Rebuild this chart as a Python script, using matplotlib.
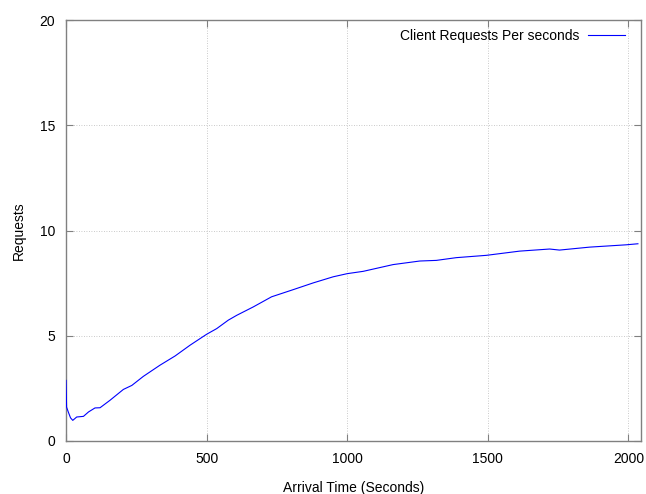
import matplotlib
matplotlib.use("Agg")
import matplotlib.pyplot as plt

# arrival time (s) vs. client requests per second
arrival = [0, 2, 8, 16, 24, 38, 62, 80, 103, 121, 156, 204, 234, 275, 334,
           388, 441, 500, 536, 577, 607, 666, 731, 808, 879, 950, 1000, 1057,
           1163, 1258, 1317, 1388, 1495, 1613, 1720, 1755, 1862, 1992, 2034]
requests = [2.88, 1.61, 1.38, 1.1, 0.98, 1.14, 1.17, 1.38, 1.57, 1.58, 1.93,
            2.45, 2.64, 3.07, 3.60, 4.04, 4.55, 5.07, 5.34, 5.74, 5.97, 6.37,
            6.85, 7.19, 7.51, 7.80, 7.95, 8.06, 8.38, 8.55, 8.58, 8.71, 8.82,
            9.02, 9.12, 9.07, 9.21, 9.32, 9.37]

plt.rcParams["font.family"] = ["Liberation Sans", "DejaVu Sans"]
plt.rcParams["font.size"] = 10

fig = plt.figure(figsize=(6.46, 4.94), dpi=100)
ax = fig.add_axes([0.1022, 0.1073, 0.8901, 0.8522])

ax.plot(arrival, requests, color="#0000ff", lw=0.8, zorder=3,
        label="Client Requests Per seconds")

ax.set_xlim(0, 2045)
ax.set_ylim(0, 20)
ax.set_xticks([0, 500, 1000, 1500, 2000])
ax.set_yticks([0, 5, 10, 15, 20])
ax.grid(True, color="#b8b8b8", linestyle=(0, (1, 2)), lw=0.6)

for s in ax.spines.values():
    s.set_color("#808080")
    s.set_linewidth(1.0)
ax.tick_params(direction="in", length=5, color="#808080", top=True,
               right=True, labelsize=10, pad=8)

ax.set_xlabel("Arrival Time (Seconds)", labelpad=11)
ax.set_ylabel("Requests", labelpad=10)

ax.legend(loc="upper right", bbox_to_anchor=(0.982, 0.992), borderaxespad=0,
          frameon=False, markerfirst=False, handlelength=2.7,
          fontsize=10, handletextpad=0.6)

fig.savefig("out.png", dpi=100)
